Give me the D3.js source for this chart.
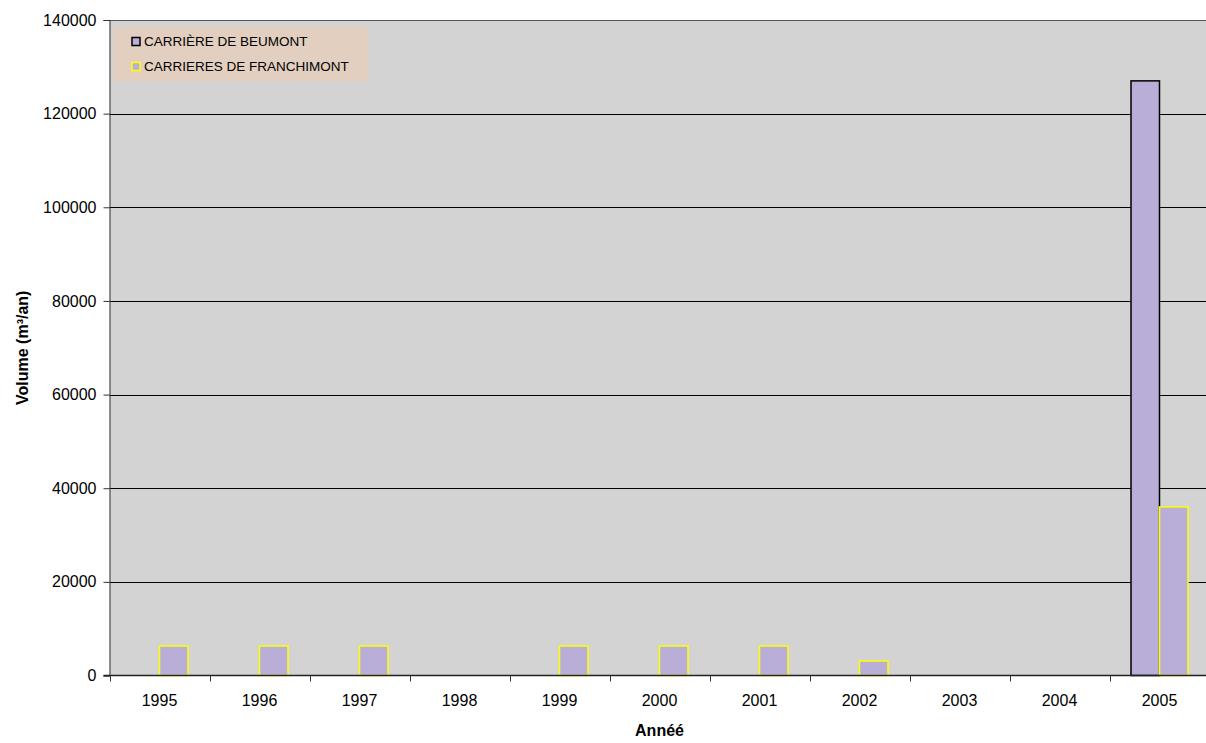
<!DOCTYPE html>
<html>
<head>
<meta charset="utf-8">
<script src="https://cdn.jsdelivr.net/npm/d3@7"></script>
<style>
  html, body { margin: 0; padding: 0; background: #fff; overflow: hidden; }
  svg { display: block; font-family: "Liberation Sans", Arial, sans-serif; }
</style>
</head>
<body>
<svg id="chart" width="1206" height="743"></svg>
<script>
// Annual volumes (m³/an) per quarry
const years = ["1995","1996","1997","1998","1999","2000","2001","2002","2003","2004","2005"];
const beumont = [0, 0, 0, 0, 0, 0, 0, 0, 0, 0, 127000];
const franchimont = [6300, 6300, 6300, 0, 6300, 6300, 6300, 3100, 0, 0, 36000];
const seriesNames = ["CARRIÈRE DE BEUMONT", "CARRIERES DE FRANCHIMONT"];
const yTicks = [0, 20000, 40000, 60000, 80000, 100000, 120000, 140000];

const svg = d3.select("#chart");
const plotLeft = 109.5, plotRight = 1209.5, plotTop = 20, plotBottom = 675.5;
const fontFam = "Liberation Sans, Arial, sans-serif";

const x = d3.scaleBand().domain(years).range([plotLeft, plotRight]).paddingInner(0).paddingOuter(0);
const sub = d3.scaleBand().domain(seriesNames).range([x.bandwidth() * 0.215, x.bandwidth() * 0.785]);
const y = d3.scaleLinear().domain([0, 140000]).range([plotBottom, plotTop]);

// plot area background
svg.append("rect")
  .attr("x", plotLeft).attr("y", plotTop)
  .attr("width", plotRight - plotLeft).attr("height", plotBottom - plotTop)
  .attr("fill", "#d3d3d3");

// horizontal gridlines
svg.append("g").selectAll("line")
  .data(yTicks.filter(d => d > 0 && d < 140000))
  .join("line")
  .attr("x1", plotLeft).attr("x2", plotRight)
  .attr("y1", d => Math.round(y(d)) + 0.5).attr("y2", d => Math.round(y(d)) + 0.5)
  .attr("stroke", "#000").attr("stroke-width", 1);

// top border
svg.append("line")
  .attr("x1", plotLeft).attr("x2", plotRight)
  .attr("y1", plotTop + 0.5).attr("y2", plotTop + 0.5)
  .attr("stroke", "#555").attr("stroke-width", 1);

// bars
const seriesData = [
  { name: seriesNames[0], values: beumont, stroke: "#000000" },
  { name: seriesNames[1], values: franchimont, stroke: "#ffff00" }
];
seriesData.forEach(s => {
  svg.append("g").selectAll("rect")
    .data(years.map((yr, i) => ({ yr, v: s.values[i] })).filter(d => d.v > 0))
    .join("rect")
    .attr("x", d => x(d.yr) + sub(s.name))
    .attr("y", d => y(d.v))
    .attr("width", sub.bandwidth())
    .attr("height", d => y(0) - y(d.v))
    .attr("fill", "#b8aed8")
    .attr("stroke", s.stroke)
    .attr("stroke-width", 1.5);
});

// y axis
const yAxis = svg.append("g")
  .attr("transform", `translate(${plotLeft},0)`)
  .call(d3.axisLeft(y).tickValues(yTicks).tickSize(6).tickPadding(7).tickFormat(d3.format("d")));
yAxis.select(".domain").attr("stroke", "#333");
yAxis.selectAll(".tick line").attr("stroke", "#333");
yAxis.selectAll("text").attr("font-size", 16).attr("fill", "#000")
  .attr("font-family", fontFam);

// x axis
const xAxis = svg.append("g")
  .attr("transform", `translate(0,${plotBottom})`)
  .call(d3.axisBottom(x).tickSize(0).tickPadding(0));
xAxis.select(".domain").remove();
xAxis.selectAll("text").attr("font-size", 16).attr("fill", "#000")
  .attr("font-family", fontFam).attr("dy", null).attr("y", 30.5);
svg.append("line")
  .attr("x1", plotLeft - 6).attr("x2", plotRight)
  .attr("y1", plotBottom).attr("y2", plotBottom)
  .attr("stroke", "#222").attr("stroke-width", 1.5);
svg.append("g").selectAll("line")
  .data(years)
  .join("line")
  .attr("x1", d => Math.round(x(d)) + 0.5).attr("x2", d => Math.round(x(d)) + 0.5)
  .attr("y1", plotBottom).attr("y2", plotBottom + 6)
  .attr("stroke", "#333");

// axis titles
svg.append("text")
  .attr("x", (plotLeft + plotRight) / 2).attr("y", 736)
  .attr("text-anchor", "middle")
  .attr("font-size", 16).attr("font-weight", "bold")
  .text("Annéé");
svg.append("text")
  .attr("transform", `translate(28,${(plotTop + plotBottom) / 2}) rotate(-90)`)
  .attr("text-anchor", "middle")
  .attr("font-size", 16).attr("font-weight", "bold")
  .text("Volume (m³/an)");

// legend
const lg = svg.append("g");
lg.append("rect")
  .attr("x", 113).attr("y", 27).attr("width", 255).attr("height", 54)
  .attr("fill", "#e3cfc0");
seriesData.forEach((s, i) => {
  const cy = 41.5 + i * 25;
  lg.append("rect")
    .attr("x", 132).attr("y", cy - 4).attr("width", 8).attr("height", 8)
    .attr("fill", "#b8aed8").attr("stroke", s.stroke).attr("stroke-width", 1.5);
  lg.append("text")
    .attr("x", 144).attr("y", cy + 4.5)
    .attr("font-size", 13.5).attr("fill", "#000")
    .text(s.name);
});
</script>
</body>
</html>
